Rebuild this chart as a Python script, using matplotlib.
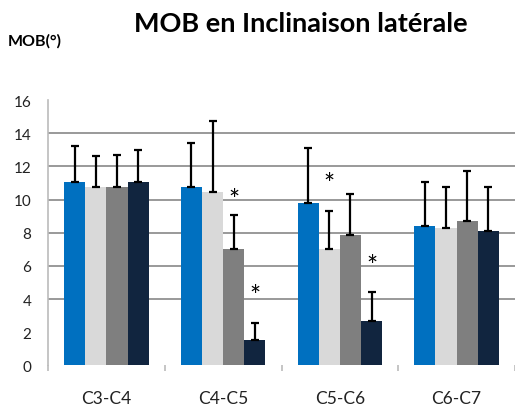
import matplotlib
matplotlib.use("Agg")
import matplotlib.pyplot as plt
import numpy as np

categories = ["C3-C4", "C4-C5", "C5-C6", "C6-C7"]
series_1 = [11.04, 10.74, 9.80, 8.41]
series_2 = [10.74, 10.44, 7.02, 8.29]
series_3 = [10.74, 7.02, 7.86, 8.71]
series_4 = [11.04, 1.53, 2.65, 8.11]
err_1 = [2.21, 2.66, 3.30, 2.67]
err_2 = [1.87, 4.32, 2.29, 2.49]
err_3 = [1.95, 2.05, 2.50, 3.00]
err_4 = [1.97, 1.04, 1.79, 2.67]
# significance stars: (category index, series index, height)
stars = [(1, 2, 10.44), (1, 3, 4.65), (2, 1, 11.4), (2, 3, 6.47)]
yticks = [0, 2, 4, 6, 8, 10, 12, 14, 16]
gridlines = [4, 6, 8, 10, 12, 14]

colors = ["#0070C0", "#D9D9D9", "#7F7F7F", "#11253F"]
values = [series_1, series_2, series_3, series_4]
errors = [err_1, err_2, err_3, err_4]

plt.rcParams['font.family'] = ['Lato', 'DejaVu Sans']

fig = plt.figure(figsize=(5.15, 4.14), dpi=100)
ax = fig.add_axes([48/515, 47.7/414, 1 - 48/515, 265.1/414])

x = np.arange(len(categories))
w = 0.181
for i, (v, e, c) in enumerate(zip(values, errors, colors)):
    off = (i - 1.5) * w
    ax.bar(x + off, v, width=w, color=c, zorder=3, linewidth=0)
    ax.errorbar(x + off, v, yerr=[np.zeros(len(e)), e], fmt='none',
                ecolor='black', elinewidth=1.6, capsize=3.2, capthick=1.6, zorder=4)

for ci, si, h in stars:
    ax.annotate("*", (ci + (si - 1.5) * w, h), xytext=(0, -6), textcoords='offset points',
                ha='center', va='center', fontsize=19, color='black', zorder=5)

for g in gridlines:
    ax.axhline(g, color='#888888', linewidth=1.2, zorder=1)

ax.set_xlim(-0.5, 3.5)
ax.set_ylim(0, 16)
ax.set_yticks(yticks)
ax.set_yticklabels([str(t) for t in yticks], fontsize=11, color='#222222')
ax.set_xticks(x)
ax.set_xticklabels(categories, fontsize=12.5, color='#222222')
ax.set_xticks(np.arange(-0.5, 4.0, 1.0), minor=True)
ax.tick_params(axis='x', which='major', length=0, pad=18)
ax.tick_params(axis='x', which='minor', length=4.5, color='#BBBBBB', width=1.2)
ax.tick_params(axis='y', length=0, pad=12)
for s in ['top', 'right', 'bottom']:
    ax.spines[s].set_visible(False)
ax.spines['left'].set_color('#BBBBBB')
ax.spines['left'].set_linewidth(1.2)

fig.text(301/515, 1 - 24/414, "MOB en Inclinaison latérale", ha='center', va='center',
         fontsize=19.5, fontweight='bold')
fig.text(8/515, 1 - 41/414, "MOB(°)", ha='left', va='center', fontsize=11.5, fontweight='bold')

fig.savefig("out.png", dpi=100)
